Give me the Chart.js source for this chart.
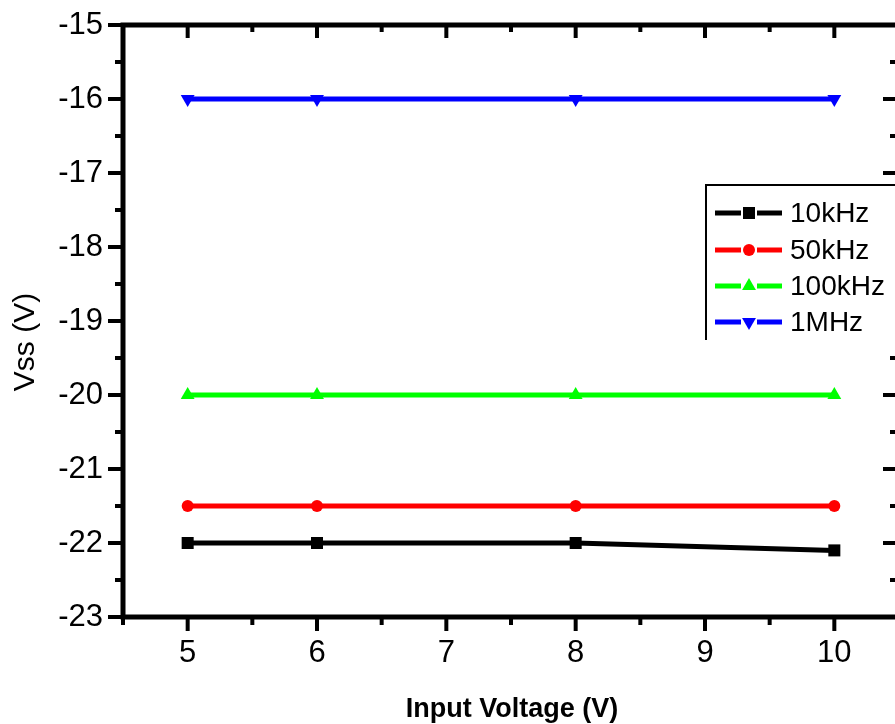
<!DOCTYPE html>
<html>
<head>
<meta charset="utf-8">
<script src="https://cdn.jsdelivr.net/npm/chart.js@4/dist/chart.umd.min.js"></script>
<style>
  html, body { margin: 0; padding: 0; background: #fff; overflow: hidden; width: 895px; height: 724px; }
  canvas { display: block; }
</style>
</head>
<body>
<canvas id="c" width="910" height="724"></canvas>
<script>
// Input voltage sweep (V)
const inputVoltage = [5, 6, 8, 10];

// Vss (V) for each switching frequency
const seriesNames = ['10kHz', '50kHz', '100kHz', '1MHz'];
const vss10kHz  = [-22, -22, -22, -22.1];
const vss50kHz  = [-21.5, -21.5, -21.5, -21.5];
const vss100kHz = [-20, -20, -20, -20];
const vss1MHz   = [-16, -16, -16, -16];

// Axis tick labels
const xTickValues = [5, 6, 7, 8, 9, 10];
const yTickValues = [-23, -22, -21, -20, -19, -18, -17, -16, -15];

const FONT = '"Liberation Sans", Arial, Helvetica, sans-serif';

function toPoints(ys) {
  return inputVoltage.map((v, i) => ({ x: v, y: ys[i] }));
}

const styles = [
  { color: '#000000', pointStyle: 'rect',     radius: 8.5, rotation: 0 },
  { color: '#ff0000', pointStyle: 'circle',   radius: 6,   rotation: 0 },
  { color: '#00ff00', pointStyle: 'triangle', radius: 8,   rotation: 0 },
  { color: '#0000ff', pointStyle: 'triangle', radius: 8,   rotation: 180 }
];
const seriesValues = [vss10kHz, vss50kHz, vss100kHz, vss1MHz];

const datasets = seriesNames.map((name, i) => ({
  label: name,
  data: toPoints(seriesValues[i]),
  borderColor: styles[i].color,
  backgroundColor: styles[i].color,
  borderWidth: 5,
  pointStyle: styles[i].pointStyle,
  pointRadius: styles[i].radius,
  pointRotation: styles[i].rotation,
  pointBorderWidth: 0,
  pointBackgroundColor: styles[i].color,
  showLine: true,
  tension: 0
}));

// midpoints between major ticks give the minor ticks
function minors(major, lo, hi) {
  const out = [];
  for (let i = 0; i < major.length - 1; i++) out.push((major[i] + major[i + 1]) / 2);
  if (major[0] - 0.5 >= lo) out.unshift(major[0] - 0.5);
  if (major[major.length - 1] + 0.5 <= hi) out.push(major[major.length - 1] + 0.5);
  return out;
}

// Boxed frame with outward ticks bottom/left and inward ticks top/right
const framePlugin = {
  id: 'frame',
  afterDatasetsDraw(chart) {
    const { ctx, chartArea: a, scales } = chart;
    const xs = scales.x, ys = scales.y;
    ctx.save();
    ctx.strokeStyle = '#000';
    ctx.lineCap = 'butt';
    const seg = (x1, y1, x2, y2) => { ctx.beginPath(); ctx.moveTo(x1, y1); ctx.lineTo(x2, y2); ctx.stroke(); };
    ctx.lineWidth = 4;
    xTickValues.forEach(v => {
      const p = xs.getPixelForValue(v);
      seg(p, a.bottom, p, a.bottom + 14);
      seg(p, a.top, p, a.top + 13);
    });
    minors(xTickValues, xs.min, xs.max).forEach(v => {
      const p = xs.getPixelForValue(v);
      seg(p, a.bottom, p, a.bottom + 8);
      seg(p, a.top, p, a.top + 7);
    });
    yTickValues.forEach(v => {
      const p = ys.getPixelForValue(v);
      seg(a.left, p, a.left - 15, p);
      seg(a.right, p, a.right - 16, p);
    });
    minors(yTickValues, ys.min, ys.max).forEach(v => {
      const p = ys.getPixelForValue(v);
      seg(a.left, p, a.left - 8, p);
      seg(a.right, p, a.right - 9, p);
    });
    ctx.lineWidth = 5;
    ctx.strokeRect(a.left, a.top, a.right - a.left, a.bottom - a.top);
    ctx.restore();
  }
};

function marker(ctx, st, x, y) {
  if (Chart.helpers && Chart.helpers.drawPoint) {
    ctx.fillStyle = st.color;
    ctx.strokeStyle = st.color;
    Chart.helpers.drawPoint(ctx, { pointStyle: st.pointStyle, rotation: st.rotation, radius: st.radius, borderWidth: 0 }, x, y);
  }
}

// Legend panel drawn inside the plot, upper right
const legendPlugin = {
  id: 'panelLegend',
  afterDraw(chart) {
    const { ctx, chartArea: a } = chart;
    const left = 706, top = 185, bottom = 340;
    ctx.save();
    ctx.fillStyle = '#fff';
    ctx.fillRect(left, top, a.right + 10 - left, bottom - top);
    ctx.strokeStyle = '#000';
    ctx.lineWidth = 2;
    ctx.beginPath();
    ctx.moveTo(left, bottom);
    ctx.lineTo(left, top);
    ctx.lineTo(a.right + 10, top);
    ctx.stroke();
    const rowY = [213, 250, 286, 322];
    chart.data.datasets.forEach((ds, i) => {
      const y = rowY[i];
      const st = styles[i];
      ctx.strokeStyle = st.color;
      ctx.lineWidth = 5;
      ctx.beginPath();
      ctx.moveTo(715, y); ctx.lineTo(741, y);
      ctx.moveTo(757, y); ctx.lineTo(782, y);
      ctx.stroke();
      marker(ctx, st, 749, y);
      ctx.fillStyle = '#000';
      ctx.font = '28px ' + FONT;
      ctx.textAlign = 'left';
      ctx.textBaseline = 'middle';
      ctx.fillText(ds.label, 790, y + 1);
    });
    ctx.restore();
  }
};

// Axis titles
const titlePlugin = {
  id: 'axisTitles',
  afterDraw(chart) {
    const { ctx } = chart;
    ctx.save();
    ctx.fillStyle = '#000';
    ctx.textAlign = 'center';
    ctx.textBaseline = 'alphabetic';
    ctx.font = 'bold 27px ' + FONT;
    ctx.fillText('Input Voltage (V)', 512, 717);
    ctx.translate(34, 342);
    ctx.rotate(-Math.PI / 2);
    ctx.font = '30px ' + FONT;
    ctx.fillText('Vss (V)', 0, 0);
    ctx.restore();
  }
};

new Chart(document.getElementById('c'), {
  type: 'scatter',
  data: { datasets },
  options: {
    responsive: false,
    animation: false,
    layout: { padding: { top: 25, right: 11, left: 0, bottom: 0 } },
    plugins: { legend: { display: false }, tooltip: { enabled: false } },
    scales: {
      x: {
        type: 'linear',
        min: 4.5,
        max: 10.5,
        grid: { display: false },
        border: { display: false },
        ticks: { color: '#000', font: { family: FONT, size: 31 }, padding: 10, maxRotation: 0, autoSkip: false, callback: v => String(v) },
        afterBuildTicks: s => { s.ticks = xTickValues.map(v => ({ value: v })); },
        afterFit: s => { s.height = 107; s.paddingLeft = 0; s.paddingRight = 0; }
      },
      y: {
        type: 'linear',
        min: -23,
        max: -15,
        grid: { display: false },
        border: { display: false },
        ticks: { color: '#000', font: { family: FONT, size: 31 }, padding: 12, autoSkip: false, callback: v => String(v) },
        afterBuildTicks: s => { s.ticks = yTickValues.map(v => ({ value: v })); },
        afterFit: s => { s.width = 123; s.paddingTop = 0; s.paddingBottom = 0; }
      }
    }
  },
  plugins: [framePlugin, legendPlugin, titlePlugin]
});
</script>
</body>
</html>
